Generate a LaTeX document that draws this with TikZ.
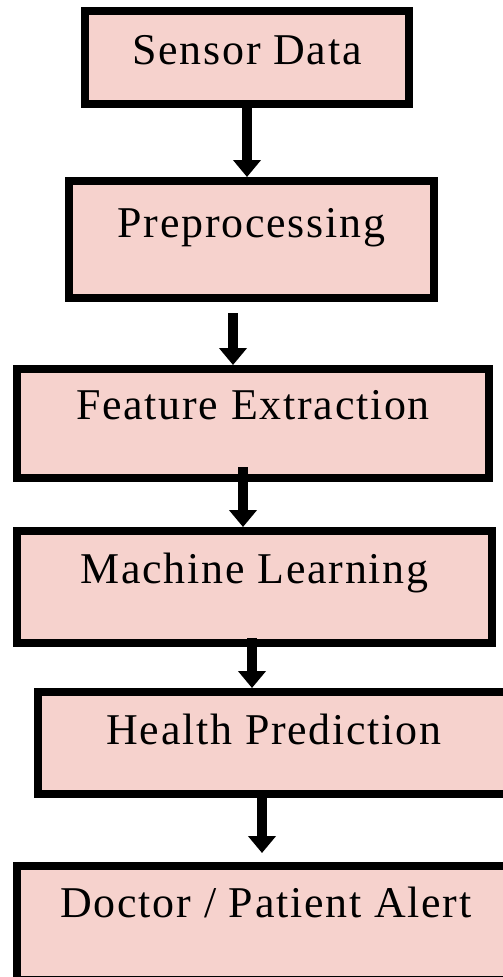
\documentclass[tikz,border=0pt]{standalone}
\usepackage{fontspec}
\setmainfont[LetterSpace=4]{Liberation Serif}
\definecolor{stageFill}{HTML}{F6D2CD}
\usepackage{tikz}
\usetikzlibrary{arrows.meta, positioning, calc}

\begin{document}
\begin{tikzpicture}[
  x=0.02cm, y=-0.02cm,
  stage/.style={draw=black, fill=stageFill, line width=0.16cm, inner sep=0pt,
    font=\fontsize{25}{30}\selectfont, text height=0.4cm},
  lift/.style={text depth=#1},
  arr/.style={-{Triangle[length=0.34cm, width=0.54cm]}, line width=0.2cm}]

  \useasboundingbox (0,0) rectangle (503,977);
  \clip (0,0) rectangle (503,977);

  \node[stage, lift=0.1cm, minimum width=6.48cm, minimum height=1.86cm] (sensor) at (247,57.5) {Sensor Data};
  \node[stage, lift=0.5cm, minimum width=7.3cm, minimum height=2.34cm] (prep) at (251.5,239.5) {Preprocessing};
  \node[stage, lift=0.58cm, minimum width=9.44cm, minimum height=2.18cm] (feat) at (253,423.5) {Feature Extraction};
  \node[stage, lift=0.54cm, minimum width=9.5cm, minimum height=2.24cm] (ml) at (254.5,587) {Machine Learning};
  \node[stage, lift=0.36cm, minimum width=9.44cm, minimum height=2.04cm] (health) at (274,743) {Health Prediction};
  \node[stage, lift=0.64cm, minimum width=9.96cm, minimum height=2.28cm] (alert) at (266,923) {Doctor / Patient Alert};

  % arrow starts that sit off the box edges
  \coordinate (prepOut) at (233,313);
  \coordinate (featOut) at (243,467);
  \coordinate (mlOut) at (252,638);

  \draw[arr] (sensor.south) -- (sensor.south |- prep.north);
  \draw[arr] (prepOut) -- (prepOut |- feat.north);
  \draw[arr] (featOut) -- (featOut |- ml.north);
  \draw[arr] (mlOut) -- (mlOut |- health.north);
  \draw[arr] ([xshift=-0.24cm]health.south) -- ($([xshift=-0.24cm]health.south |- alert.north)+(0,-9)$);
\end{tikzpicture}
\end{document}
